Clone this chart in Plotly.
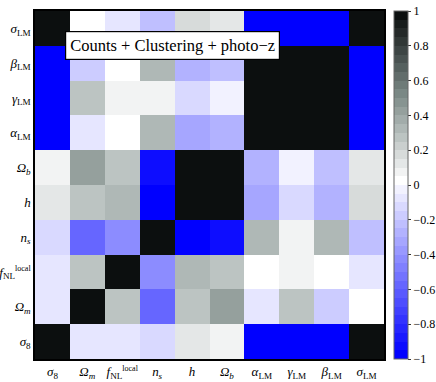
import plotly.graph_objects as go

# parameter order (x left->right, y bottom->top)
PARAMS = [
    "<i>σ</i><sub>8</sub>",
    "<i>Ω</i><sub><i>m</i></sub>",
    "<i>f</i><sub>NL</sub><sup><span style='font-size:8px'>local</span></sup>",
    "<i>n</i><sub><i>s</i></sub>",
    "<i>h</i>",
    "<i>Ω</i><sub><i>b</i></sub>",
    "<i>α</i><sub>LM</sub>",
    "<i>γ</i><sub>LM</sub>",
    "<i>β</i><sub>LM</sub>",
    "<i>σ</i><sub>LM</sub>",
]

# correlation matrix, rows/cols in PARAMS order
CORR = [
    [1.00, -0.08, -0.08, -0.13, 0.12, 0.07, -1.00, -1.00, -1.00, 1.00],
    [-0.08, 1.00, 0.27, -0.58, 0.27, 0.42, -0.08, 0.27, -0.18, 0.02],
    [-0.08, 0.27, 1.00, -0.43, 0.32, 0.27, 0.02, 0.07, 0.02, -0.08],
    [-0.13, -0.58, -0.43, 1.00, -1.00, -0.93, 0.32, 0.07, 0.32, -0.22],
    [0.12, 0.27, 0.32, -1.00, 1.00, 0.97, -0.33, -0.13, -0.28, 0.17],
    [0.07, 0.42, 0.27, -0.93, 0.97, 1.00, -0.28, -0.03, -0.23, 0.12],
    [-1.00, -0.08, 0.02, 0.32, -0.33, -0.28, 1.00, 0.97, 0.98, -1.00],
    [-1.00, 0.27, 0.07, 0.07, -0.13, -0.03, 0.97, 1.00, 0.97, -1.00],
    [-1.00, -0.18, 0.02, 0.32, -0.28, -0.23, 0.98, 0.97, 1.00, -1.00],
    [1.00, 0.02, -0.08, -0.22, 0.17, 0.12, -1.00, -1.00, -1.00, 1.00],
]

CB_TICKS = [-1, -0.8, -0.6, -0.4, -0.2, 0, 0.2, 0.4, 0.6, 0.8, 1]
TITLE = "Counts + Clustering + photo−z"
SERIF = "Liberation Serif, DejaVu Serif, serif"


def ramp(v):
    # blue -> white -> greenish black
    if v < 0:
        t = -v
        return (255 * (1 - t), 255 * (1 - t), 255)
    if v <= 0.5:
        t = v / 0.5
        return (255 + (122 - 255) * t, 255 + (136 - 255) * t, 255 + (133 - 255) * t)
    t = (v - 0.5) / 0.5
    return (122 + (0 - 122) * t, 136 + (2 - 136) * t, 133 + (2 - 133) * t)


def discrete_scale(n=40):
    scale = []
    for k in range(n):
        lo = -1 + 2 * k / n
        r, g, b = ramp(lo)
        c = "rgb({:.0f},{:.0f},{:.0f})".format(r, g, b)
        scale.append([k / n, c])
        scale.append([(k + 1) / n, c])
    return scale


fig = go.Figure(go.Heatmap(
    z=CORR, x=PARAMS, y=PARAMS,
    zmin=-1, zmax=1,
    colorscale=discrete_scale(),
    hoverongaps=False,
    colorbar=dict(
        x=1.029, xanchor="left", xref="paper", xpad=0, ypad=0,
        y=0.5, yanchor="middle", len=1.0, lenmode="fraction",
        thickness=14, outlinewidth=1, outlinecolor="#666",
        tickvals=CB_TICKS, ticks="outside", ticklen=3, tickcolor="#333",
        tickfont=dict(family=SERIF, size=12, color="black"),
    ),
))

fig.add_annotation(
    x=0.394, y=0.901, xref="paper", yref="paper",
    xanchor="center", yanchor="middle",
    text=TITLE, showarrow=False,
    font=dict(family=SERIF, size=16.5, color="black"),
    bgcolor="white", bordercolor="black", borderwidth=1.2, borderpad=4,
)

fig.update_xaxes(
    type="category", categoryorder="array", categoryarray=PARAMS,
    showline=True, linecolor="black", linewidth=1.5, mirror=True,
    ticks="", showgrid=False,
    tickfont=dict(family=SERIF, size=13, color="black"),
)
fig.update_yaxes(
    type="category", categoryorder="array", categoryarray=PARAMS,
    showline=True, linecolor="black", linewidth=1.5, mirror=True,
    ticks="", showgrid=False,
    tickfont=dict(family=SERIF, size=13, color="black"),
)

fig.update_layout(
    width=436, height=382,
    margin=dict(l=35, r=52, t=11, b=23, autoexpand=False),
    paper_bgcolor="white", plot_bgcolor="white",
    font=dict(family=SERIF),
)

fig.write_html("out.html", config={"displayModeBar": False},
               post_script="document.body.style.margin='0';")
